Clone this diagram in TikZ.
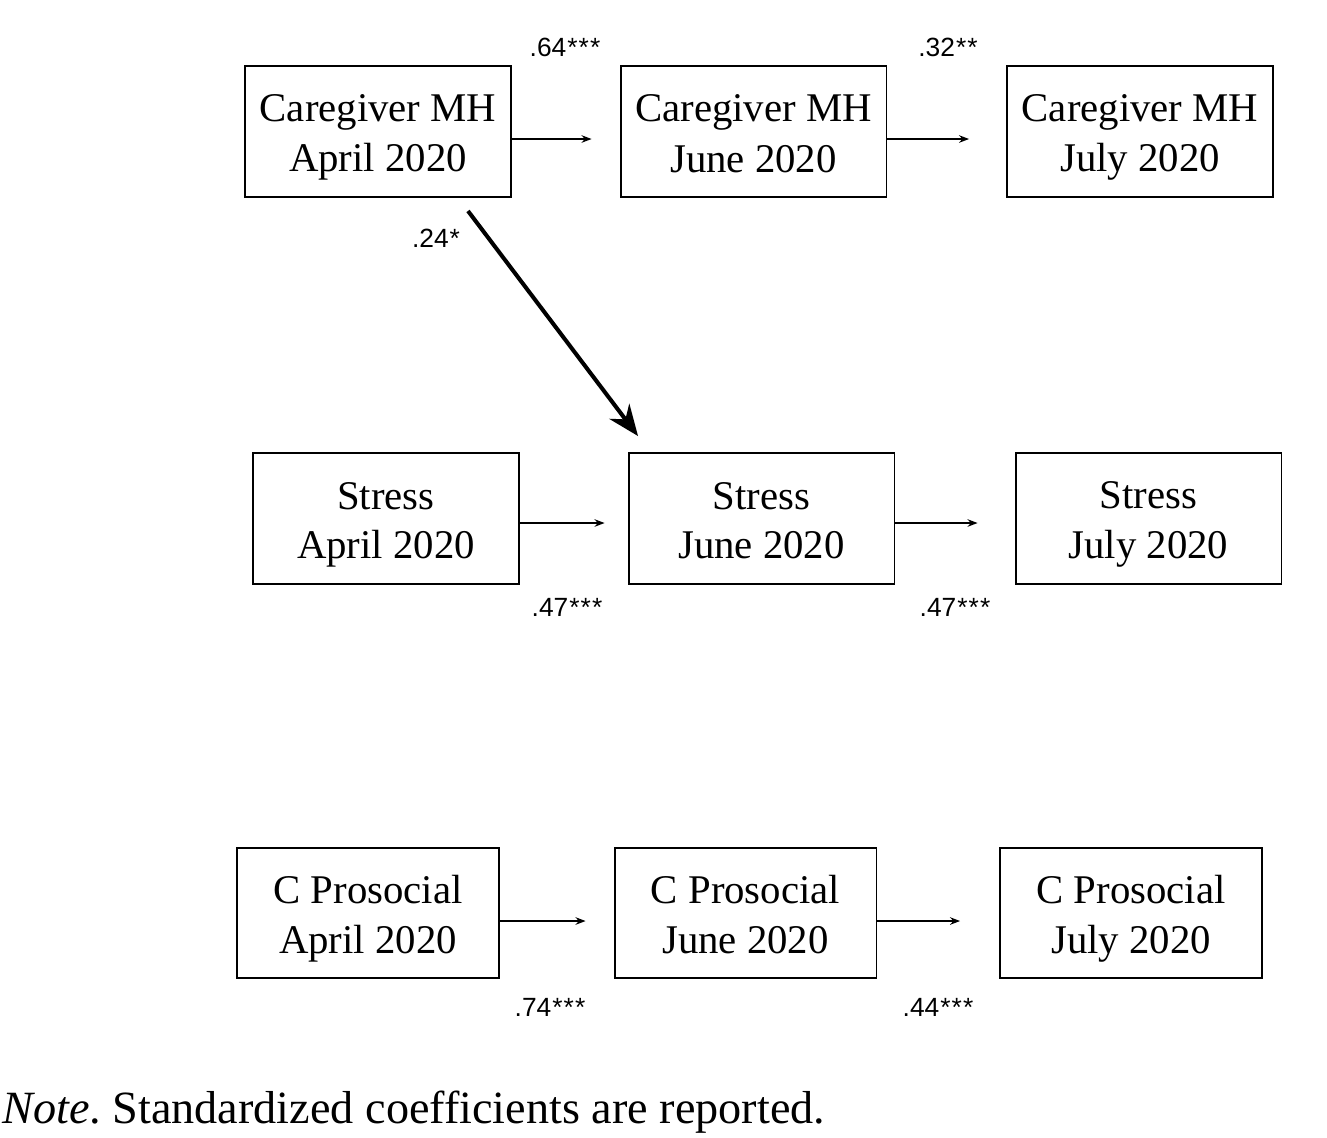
\documentclass[tikz,border=0pt]{standalone}
\usepackage{fontspec}
\setmainfont{Liberation Serif}
\newfontfamily\labfont{Liberation Sans}
\usetikzlibrary{arrows.meta}
\newcommand\lstr{\rule[-0.17cm]{0pt}{0.96cm}}
\newcommand\sstar{\kern0.6pt*}
\begin{document}
\begin{tikzpicture}[x=0.02cm,y=-0.02cm,
  varbox/.style={draw,line width=1.1pt,minimum width=5.32cm,minimum height=2.62cm,align=center,inner sep=0pt,
    font=\fontsize{23.2}{27.3}\selectfont},
  varboxc/.style={varbox,minimum width=5.24cm,minimum height=2.6cm},
  path/.style={line width=1.1pt,-{Stealth[length=0.2cm,width=0.15cm]}},
  coef/.style={font=\labfont\fontsize{15}{18}\selectfont,inner sep=0pt}]
\useasboundingbox (0,0) rectangle (1327,1137);
% row 1
\node[varbox] (A1) at (378,131.5) {\lstr Caregiver MH\\\lstr April 2020};
\node[varbox] (A2) at (753.5,131.5) {\lstr Caregiver MH\\\lstr June 2020};
\node[varbox] (A3) at (1140,131.5) {\lstr Caregiver MH\\\lstr July 2020};
% row 2
\node[varbox] (B1) at (386,518.5) {\lstr Stress\\\lstr April 2020};
\node[varbox] (B2) at (761.5,518.5) {\lstr Stress\\\lstr June 2020};
\node[varbox] (B3) at (1148.5,518.5) {\lstr Stress\\\lstr July 2020};
% row 3
\node[varboxc] (C1) at (368,913) {\lstr C Prosocial\\\lstr April 2020};
\node[varboxc] (C2) at (745.5,913) {\lstr C Prosocial\\\lstr June 2020};
\node[varboxc] (C3) at (1131,913) {\lstr C Prosocial\\\lstr July 2020};
% horizontal paths
\draw[path,shorten >=0.56cm] ([yshift=-0.15cm]A1.east) -- ([yshift=-0.15cm]A2.west);
\draw[path,shorten >=0.74cm] ([yshift=-0.15cm]A2.east) -- ([yshift=-0.15cm]A3.west);
\draw[path,shorten >=0.46cm] ([yshift=-0.09cm]B1.east) -- ([yshift=-0.09cm]B2.west);
\draw[path,shorten >=0.74cm] ([yshift=-0.09cm]B2.east) -- ([yshift=-0.09cm]B3.west);
\draw[path,shorten >=0.56cm] ([yshift=-0.16cm]C1.east) -- ([yshift=-0.16cm]C2.west);
\draw[path,shorten >=0.78cm] ([yshift=-0.16cm]C2.east) -- ([yshift=-0.16cm]C3.west);
% diagonal path
\coordinate (d1) at ([xshift=1.8cm,yshift=-0.26cm]A1.south);
\coordinate (d2) at ([xshift=-2.47cm,yshift=0.32cm]B2.north);
\draw[line width=2.3pt,-{Stealth[length=0.62cm,width=0.5cm]}] (d1) -- (d2);
% coefficients
\node[coef] (k1) at (565,47) {.64\sstar\sstar\sstar};
\node[coef] (k2) at (948,47) {.32\sstar\sstar};
\node[coef] (k3) at (436,238) {.24\sstar};
\node[coef] (k4) at (567,607) {.47\sstar\sstar\sstar};
\node[coef] (k5) at (955,607) {.47\sstar\sstar\sstar};
\node[coef] (k6) at (550,1007) {.74\sstar\sstar\sstar};
\node[coef] (k7) at (938,1007) {.44\sstar\sstar\sstar};
% note
\node[anchor=base west,inner sep=0pt,font=\fontsize{26.3}{30}\selectfont] (note) at (2,1123) {\frenchspacing\textit{Note}. Standardized coefficients are reported.};
\end{tikzpicture}
\end{document}
